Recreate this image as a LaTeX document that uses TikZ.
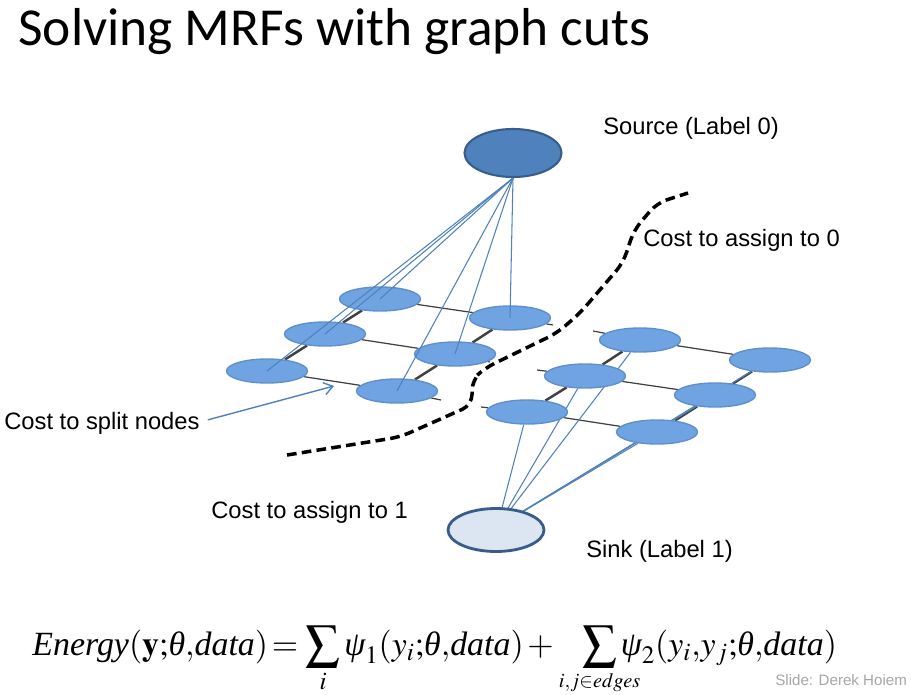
\documentclass[tikz,border=0pt]{standalone}
\usepackage{mathptmx}
\usepackage{fontspec}
\setmainfont{Liberation Sans}
\newfontfamily\titlefont{Carlito}
\newfontfamily\eqfont{Liberation Serif}
\newcommand{\gth}{\mbox{\eqfont\itshape θ}}
\newcommand{\gps}{\mbox{\eqfont\itshape ψ}}
\newcommand{\tx}[1]{\mbox{\eqfont\itshape #1}}
\newcommand{\zsub}[1]{\hbox to 0pt{\hss$\scriptscriptstyle #1$\hss}}
\usetikzlibrary{shapes.geometric,arrows.meta,backgrounds}
\definecolor{gridfill}{HTML}{6FA3E1}
\definecolor{gridedge}{HTML}{5F90CC}
\definecolor{srcfill}{HTML}{4F81BD}
\definecolor{srcedge}{HTML}{385D8A}
\definecolor{sinkfill}{HTML}{DCE6F2}
\definecolor{linkblue}{HTML}{4F81BD}
\tikzset{
  gnode/.style  = {ellipse, draw=gridedge, fill=gridfill, line width=0.8pt,
                   minimum width=1.62cm, minimum height=0.48cm, inner sep=0pt},
  srcnode/.style= {ellipse, draw=srcedge, fill=srcfill, line width=1.2pt,
                   minimum width=1.94cm, minimum height=0.96cm, inner sep=0pt},
  snknode/.style= {ellipse, draw=srcedge, fill=sinkfill, line width=1.6pt,
                   minimum width=1.92cm, minimum height=0.86cm, inner sep=0pt},
  lbl/.style    = {font=\fontsize{13.5}{16}\selectfont, anchor=base west, inner sep=0pt},
  deep/.style   = {draw=black!75, line width=1.4pt},
  row/.style    = {draw=black!75, line width=0.7pt},
  link/.style   = {draw=linkblue, line width=0.6pt},
  cut/.style    = {draw=black, line width=2pt, dash pattern=on 5.5pt off 3pt,
                   rounded corners=6pt},
}
\begin{document}
\begin{tikzpicture}[x=0.02cm, y=-0.02cm]
\useasboundingbox (0,0) rectangle (911,695);

%% ── Title ─────────────────────────────────────────────────────────────────
\node[anchor=base west, inner sep=0pt, font=\titlefont\fontsize{30.4}{36}\selectfont]
  (title) at (18,46) {Solving MRFs with graph cuts};

%% ── Source and sink ───────────────────────────────────────────────────────
\node[srcnode] (source) at (513,153) {};
\node[snknode] (sink)   at (496,530) {};

%% ── Left grid ─────────────────────────────────────────────────────────────
\node[gnode] (lb1) at (380,299) {};
\node[gnode] (lb2) at (510,318) {};
\node[gnode] (lm1) at (325,334) {};
\node[gnode] (lm2) at (455,354) {};
\node[gnode] (lf1) at (267,371) {};
\node[gnode] (lf2) at (397,391) {};

%% ── Right grid ────────────────────────────────────────────────────────────
\node[gnode] (rb1) at (640,340) {};
\node[gnode] (rb2) at (770,360) {};
\node[gnode] (rm1) at (585,376) {};
\node[gnode] (rm2) at (715,395) {};
\node[gnode] (rf1) at (527,412) {};
\node[gnode] (rf2) at (657,432) {};

%% ── Stub ends of the cut edges ────────────────────────────────────────────
\coordinate (lbx) at (553,325);
\coordinate (lmx) at (490,362);
\coordinate (lfx) at (441,400);
\coordinate (rbx) at (593,331);
\coordinate (rmx) at (537,370);
\coordinate (rfx) at (481,407);

\begin{scope}[on background layer]
%% ── Grid edges ────────────────────────────────────────────────────────────
\draw[deep] (lf1) -- (lm1);
\draw[deep] (lm1) -- (lb1);
\draw[deep] (lf2) -- (lm2);
\draw[deep] (lm2) -- (lb2);
\draw[deep] (rf1) -- (rm1);
\draw[deep] (rm1) -- (rb1);
\draw[deep] (rf2) -- (rm2);
\draw[deep] (rm2) -- (rb2);

\draw[row] (lb1) -- (lb2) -- (lbx);
\draw[row] (lm1) -- (lm2) -- (lmx);
\draw[row] (lf1) -- (lf2) -- (lfx);
\draw[row] (rbx) -- (rb1) -- (rb2);
\draw[row] (rmx) -- (rm1) -- (rm2);
\draw[row] (rfx) -- (rf1) -- (rf2);

%% ── Sink links (under the nodes) ──────────────────────────────────────────
\draw[link] ([shift={(1,-3)}]sink.center) -- (rf1);
\draw[link] ([shift={(1,-3)}]sink.center) -- (rm1);
\draw[link] ([shift={(1,-3)}]sink.center) -- (rb1);
\draw[link] ([shift={(1,-3)}]sink.center) -- (rf2);
\draw[link] ([shift={(1,-3)}]sink.center) -- (rm2);
\draw[link] ([shift={(1,-3)}]sink.center) -- (rb2);
\end{scope}

%% ── Source links ──────────────────────────────────────────────────────────
\draw[link] (source.south) -- (lb1.center);
\draw[link] (source.south) -- (lm1.center);
\draw[link] (source.south) -- (lf1.center);
\draw[link] (source.south) -- (lb2.center);
\draw[link] (source.south) -- (lm2.center);
\draw[link] (source.south) -- (lf2.center);

%% ── Cut ───────────────────────────────────────────────────────────────────
\draw[cut] (287,455) -- (400,437) -- (472,405) -- (472,380) -- (485,368)
  -- (557,333) -- (580,313) -- (623,263) -- (634,230) -- (657,203) -- (688,193);

%% ── Labels ────────────────────────────────────────────────────────────────
\node[lbl] (srclbl)  at (603,135) {Source (Label 0)};
\node[lbl] (cost0)   at (643,247) {Cost to assign to 0};
\node[lbl] (split)   at (4,429)   {Cost to split nodes};
\node[lbl] (cost1)   at (211,518) {Cost to assign to 1};
\node[lbl] (snklbl)  at (586,557) {Sink (Label 1)};

\coordinate (splitend) at (334,386);
\draw[link, line width=0.8pt, -{Straight Barb[length=5pt,width=7pt]}]
  ([shift={(8,-3)}]split.east) -- (splitend);

%% ── Energy ────────────────────────────────────────────────────────────────
\node[anchor=base west, inner sep=0pt, font=\fontsize{19.3}{23}\selectfont]
  (energy) at (32,655)
  {$\displaystyle \tx{Energy}(\mathbf{y}{;}\gth{,}\tx{data})\,{=}\,\sum_i\gps_1(y_i{;}\gth{,}\tx{data})\,{+}\hskip 14pt
   \sum_{\zsub{i,j\in edges}}\gps_2(y_i{,}y_j{;}\gth{,}\tx{data})$};

\node[anchor=base west, inner sep=0pt, text=black!35, font=\fontsize{8.6}{10}\selectfont]
  (credit) at (775,685) {Slide: Derek Hoiem};

\end{tikzpicture}
\end{document}
